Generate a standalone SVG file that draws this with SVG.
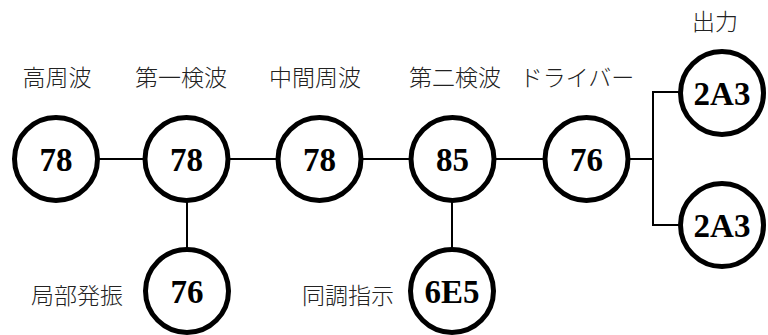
<svg xmlns="http://www.w3.org/2000/svg" width="768" height="335" viewBox="0 0 768 335">
<style>
.c{fill:#fff;stroke:#000;stroke-width:5}
.n{font-family:"Liberation Serif","Times New Roman",serif;font-weight:bold;font-size:33px;text-anchor:middle;fill:#000}
.l{font-family:"Liberation Serif","Noto Sans CJK JP",serif;font-size:23px;font-weight:300;text-anchor:middle;fill:#222}
.w{fill:none;stroke:#000;stroke-width:2}
</style>
<rect width="768" height="335" fill="#fff"/>
<g id="connectors">
<line class="w" x1="98" y1="159" x2="145" y2="159"/>
<line class="w" x1="228" y1="159" x2="278" y2="159"/>
<line class="w" x1="361" y1="159" x2="411" y2="159"/>
<line class="w" x1="494" y1="159" x2="545" y2="159"/>
<line class="w" x1="628" y1="159" x2="653" y2="159"/>
<polyline class="w" points="680,92 653,92 653,225 680,225"/>
<line class="w" x1="187" y1="201" x2="187" y2="249"/>
<line class="w" x1="452" y1="201" x2="452" y2="249"/>
</g>
<g id="hf"><circle class="c" cx="56" cy="159" r="41.5"/><text class="n" x="56" y="171">78</text><text class="l" x="57" y="86">高周波</text></g>
<g id="det1"><circle class="c" cx="186.5" cy="159" r="41.5"/><text class="n" x="186.5" y="171">78</text><text class="l" x="181" y="86">第一検波</text></g>
<g id="if"><circle class="c" cx="319.5" cy="159" r="41.5"/><text class="n" x="319.5" y="171">78</text><text class="l" x="315" y="86">中間周波</text></g>
<g id="det2"><circle class="c" cx="452.5" cy="159" r="41.5"/><text class="n" x="452.5" y="171">85</text><text class="l" x="455" y="86">第二検波</text></g>
<g id="driver"><circle class="c" cx="586.5" cy="159" r="41.5"/><text class="n" x="586.5" y="171">76</text><text class="l" x="577" y="86">ドライバー</text></g>
<g id="out1"><circle class="c" cx="722" cy="93" r="41.5"/><text class="n" x="722" y="105">2A3</text><text class="l" x="715" y="30">出力</text></g>
<g id="out2"><circle class="c" cx="722" cy="225" r="41.5"/><text class="n" x="722" y="237">2A3</text></g>
<g id="lo"><circle class="c" cx="187" cy="291" r="41.5"/><text class="n" x="187" y="303">76</text><text class="l" x="77" y="304">局部発振</text></g>
<g id="tune"><circle class="c" cx="452" cy="291" r="41.5"/><text class="n" x="452" y="303">6E5</text><text class="l" x="348" y="304">同調指示</text></g>
</svg>
